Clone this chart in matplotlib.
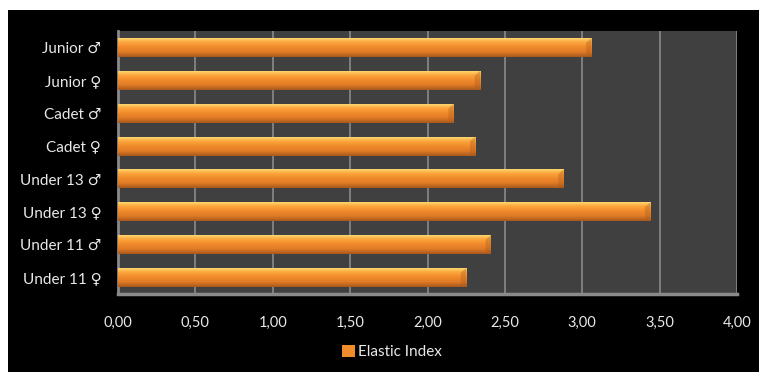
import numpy as np
import matplotlib.pyplot as plt
from matplotlib.colors import LinearSegmentedColormap

# categories top to bottom, as in the chart
groups = ['Junior ♂', 'Junior ♀', 'Cadet ♂', 'Cadet ♀',
          'Under 13 ♂', 'Under 13 ♀', 'Under 11 ♂', 'Under 11 ♀']
elastic_index = [3.06, 2.34, 2.17, 2.31, 2.88, 3.44, 2.41, 2.25]
ticks = [0, 0.5, 1, 1.5, 2, 2.5, 3, 3.5, 4]
tick_labels = ['0,00', '0,50', '1,00', '1,50', '2,00', '2,50', '3,00', '3,50', '4,00']

plt.rcParams['font.family'] = ['Lato', 'DejaVu Sans']

fig = plt.figure(figsize=(7.59, 3.72), dpi=100, facecolor='white')
# black chart area with a white strip at top and left
fig.patches.append(plt.Rectangle((8 / 759, 0), 1, 1 - 10 / 372, transform=fig.transFigure,
                                 facecolor='black', edgecolor='none', zorder=-5))
ax = fig.add_axes([118 / 759, 1 - 294 / 372, (737 - 118) / 759, (294 - 31) / 372])
ax.set_facecolor('#404040')

y = np.arange(len(groups))
bars = ax.barh(y, elastic_index, height=0.58, color='#F08C2A', edgecolor='none', zorder=2)

# orange gradient on each bar, light at the top, darker at the bottom
cmap = LinearSegmentedColormap.from_list('bar', ['#FFE27A', '#FBA63C', '#F28A2B', '#E07B26', '#A8581C'])
grad = np.linspace(0, 1, 64).reshape(-1, 1)
for b in bars:
    x0, y0, w, h = b.get_x(), b.get_y(), b.get_width(), b.get_height()
    im = ax.imshow(grad, cmap=cmap, aspect='auto', extent=(x0, x0 + w, y0 + h, y0),
                   origin='upper', zorder=3, interpolation='bicubic')
    im.set_clip_path(b)
    # small darker bevel at the right end
    ax.fill([x0 + w - 0.035, x0 + w, x0 + w, x0 + w - 0.035],
            [y0 + h * 0.25, y0, y0 + h, y0 + h * 0.85], color='#A85A1C', alpha=0.35, zorder=4,
            lw=0)

ax.set_xlim(0, 4)
ax.set_ylim(len(groups) - 0.5, -0.5)
ax.set_xticks(ticks)
ax.set_xticklabels(tick_labels)
ax.set_yticks(y)
ax.set_yticklabels(groups)
ax.tick_params(colors='#E8E8E8', labelsize=10.5, length=0)
ax.tick_params(axis='y', labelsize=11, pad=12)
ax.tick_params(axis='x', pad=16)
ax.grid(axis='x', color='#8A8A8A', lw=1.2, zorder=1)
for s in ['top', 'right']:
    ax.spines[s].set_visible(False)
ax.spines['left'].set_color('#8A8A8A')
ax.spines['bottom'].set_color('#8A8A8A')
ax.spines['left'].set_linewidth(2)
ax.spines['bottom'].set_linewidth(2.5)

leg = ax.legend([bars[0]], ['Elastic Index'], loc='center', bbox_to_anchor=(392 / 759, 1 - 352 / 372),
                bbox_transform=fig.transFigure, frameon=False, handlelength=0.8, handleheight=0.8,
                handletextpad=0.2, fontsize=11)
for t in leg.get_texts():
    t.set_color('#E8E8E8')

fig.savefig('out.png', dpi=100, facecolor=fig.get_facecolor())
